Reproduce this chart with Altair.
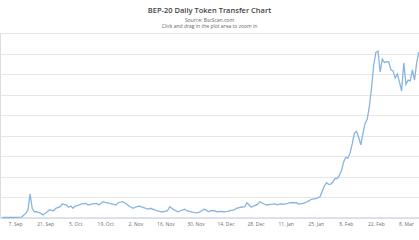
import altair as alt
import pandas as pd

# Daily BEP-20 token transfers (millions)
dates = [
    "2020-09-01", "2020-09-04", "2020-09-08", "2020-09-10", "2020-09-12", "2020-09-13",
    "2020-09-14", "2020-09-15", "2020-09-16", "2020-09-17", "2020-09-19", "2020-09-20",
    "2020-09-22", "2020-09-23", "2020-09-25", "2020-09-26", "2020-09-28", "2020-09-29",
    "2020-10-01", "2020-10-02", "2020-10-03", "2020-10-04", "2020-10-05", "2020-10-07",
    "2020-10-08", "2020-10-10", "2020-10-11", "2020-10-13", "2020-10-15", "2020-10-16",
    "2020-10-18", "2020-10-19", "2020-10-21", "2020-10-22", "2020-10-24", "2020-10-25",
    "2020-10-27", "2020-10-29", "2020-10-30", "2020-11-01", "2020-11-02", "2020-11-04",
    "2020-11-05", "2020-11-07", "2020-11-08", "2020-11-09", "2020-11-11", "2020-11-12",
    "2020-11-14", "2020-11-15", "2020-11-17", "2020-11-18", "2020-11-19", "2020-11-20",
    "2020-11-22", "2020-11-23", "2020-11-25", "2020-11-26", "2020-11-28", "2020-11-29",
    "2020-12-01", "2020-12-02", "2020-12-04", "2020-12-05", "2020-12-06", "2020-12-07",
    "2020-12-09", "2020-12-10", "2020-12-12", "2020-12-13", "2020-12-15", "2020-12-16",
    "2020-12-18", "2020-12-19", "2020-12-21", "2020-12-23", "2020-12-24", "2020-12-25",
    "2020-12-26", "2020-12-27", "2020-12-29", "2020-12-30",
    "2021-01-01", "2021-01-02", "2021-01-04", "2021-01-06", "2021-01-07", "2021-01-09",
    "2021-01-10", "2021-01-12", "2021-01-13", "2021-01-15", "2021-01-16", "2021-01-17",
    "2021-01-19", "2021-01-20", "2021-01-22", "2021-01-23", "2021-01-25", "2021-01-27",
    "2021-01-28", "2021-01-29", "2021-01-30", "2021-01-31",
    "2021-02-01", "2021-02-02", "2021-02-03", "2021-02-04", "2021-02-05", "2021-02-06",
    "2021-02-07", "2021-02-08", "2021-02-09", "2021-02-10", "2021-02-11", "2021-02-12",
    "2021-02-13", "2021-02-14", "2021-02-15", "2021-02-16", "2021-02-17", "2021-02-18",
    "2021-02-19", "2021-02-20", "2021-02-21", "2021-02-22", "2021-02-23", "2021-02-24",
    "2021-02-25", "2021-02-26", "2021-02-27", "2021-02-28",
    "2021-03-01", "2021-03-02", "2021-03-03", "2021-03-04", "2021-03-05", "2021-03-06",
    "2021-03-07", "2021-03-08", "2021-03-09", "2021-03-10", "2021-03-11", "2021-03-12",
    "2021-03-13", "2021-03-14",
]
transfers = [
    0.00, 0.00, 0.01, 0.02, 0.20, 0.37,
    1.15, 0.45, 0.28, 0.28, 0.20, 0.12,
    0.28, 0.37, 0.33, 0.45, 0.53, 0.66,
    0.61, 0.50, 0.56, 0.45, 0.56, 0.61,
    0.66, 0.69, 0.61, 0.66, 0.69, 0.61,
    0.77, 0.74, 0.69, 0.66, 0.61, 0.72,
    0.77, 0.66, 0.56, 0.45, 0.50, 0.56,
    0.50, 0.45, 0.41, 0.45, 0.37, 0.33,
    0.28, 0.28, 0.33, 0.53, 0.45, 0.37,
    0.28, 0.33, 0.40, 0.33, 0.28, 0.25,
    0.23, 0.27, 0.40, 0.37, 0.28, 0.33,
    0.33, 0.28, 0.30, 0.28, 0.30, 0.33,
    0.37, 0.45, 0.50, 0.53, 0.72, 0.61,
    0.50, 0.56, 0.64, 0.77,
    0.66, 0.61, 0.64, 0.66, 0.62, 0.67,
    0.64, 0.69, 0.72, 0.72, 0.72, 0.66,
    0.69, 0.72, 0.82, 0.89, 0.92, 1.01,
    1.27, 1.54, 1.70, 1.62,
    1.63, 1.73, 1.91, 1.90, 2.05, 2.29,
    2.71, 2.93, 2.89, 3.15, 3.59, 4.12,
    4.20, 3.90, 3.54, 4.12, 4.59, 4.80,
    5.44, 6.34, 7.44, 8.05, 8.12, 7.10,
    7.73, 7.56, 7.60, 7.59,
    7.20, 7.15, 6.80, 7.00, 6.60, 6.17,
    7.54, 6.50, 6.70, 6.66, 7.20, 6.70,
    7.54, 8.07,
]

# x-axis tick labels (every two weeks)
tick_dates = [
    (2020, 9, 7), (2020, 9, 21), (2020, 10, 5), (2020, 10, 19), (2020, 11, 2),
    (2020, 11, 16), (2020, 11, 30), (2020, 12, 14), (2020, 12, 28), (2021, 1, 11),
    (2021, 1, 25), (2021, 2, 8), (2021, 2, 22), (2021, 3, 8),
]
y_ticks = [0, 1, 2, 3, 4, 5, 6, 7, 8, 9]

df = pd.DataFrame({"date": dates, "transfers": transfers})

x_values = [alt.DateTime(year=y, month=m, date=d) for (y, m, d) in tick_dates]

chart = (
    alt.Chart(df)
    .mark_line(color="#88b4e2", strokeWidth=1.3, interpolate="linear")
    .encode(
        x=alt.X(
            "date:T",
            title=None,
            scale=alt.Scale(
                domain=[
                    alt.DateTime(year=2020, month=8, date=31),
                    alt.DateTime(year=2021, month=3, date=14, hours=2),
                ]
            ),
            axis=alt.Axis(
                values=x_values,
                format="%-d. %b",
                labelFontSize=5,
                labelColor="#707070",
                labelFont="Open Sans",
                labelPadding=4,
                ticks=False,
                grid=False,
                domainColor="#ccd6eb",
                domainWidth=1,
                labelOverlap=False,
            ),
        ),
        y=alt.Y(
            "transfers:Q",
            title=None,
            scale=alt.Scale(domain=[0, 9], nice=False),
            axis=alt.Axis(
                values=y_ticks,
                labels=False,
                ticks=False,
                domain=False,
                grid=True,
                gridColor="#e6e6e6",
                gridWidth=1,
            ),
        ),
    )
    .properties(
        width=419,
        height=184.5,
        padding={"left": 0, "right": 0, "top": 33, "bottom": 22.5},
        autosize=alt.AutoSizeParams(type="none"),
        title=alt.TitleParams(
            text="BEP-20 Daily Token Transfer Chart",
            subtitle=["Source: BscScan.com", "Click and drag in the plot area to zoom in"],
            anchor="middle",
            fontSize=7.5,
            fontWeight=600,
            font="Open Sans",
            color="#444444",
            subtitleFont="Open Sans",
            subtitleFontSize=5,
            subtitleColor="#666666",
            subtitleLineHeight=6,
            subtitlePadding=4,
            offset=4,
        ),
    )
    .configure_view(stroke=None)
    .configure(background="white")
)

chart.save("out.html", embed_options={"renderer": "svg", "actions": False})
